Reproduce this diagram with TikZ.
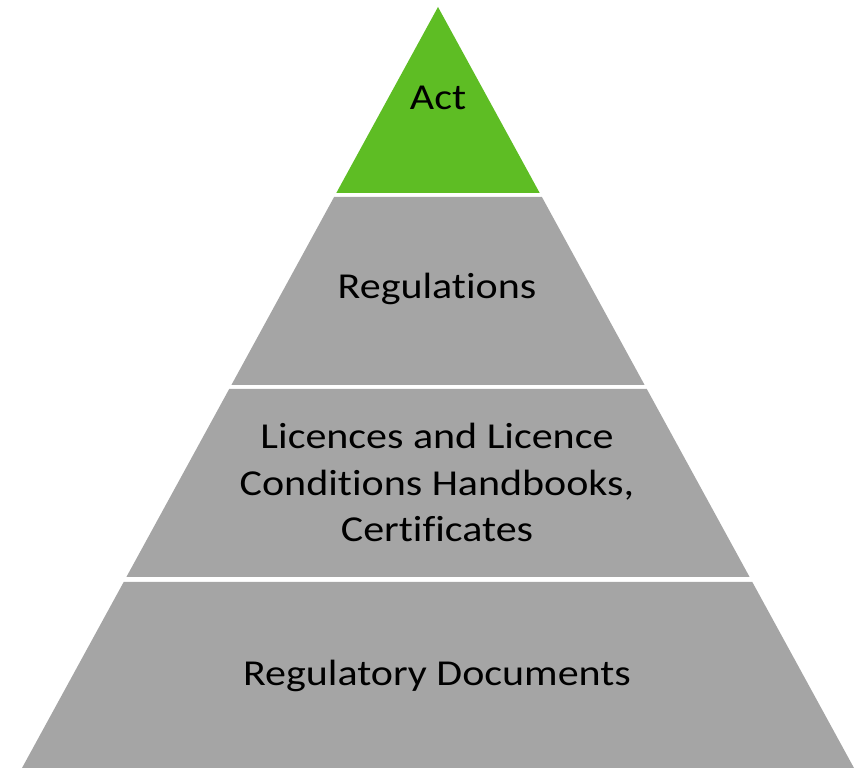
\documentclass[tikz,border=0pt]{standalone}
\usepackage{fontspec}
\usepackage{graphicx}
\setmainfont{Carlito}[Ligatures={NoCommon}]
\definecolor{actgreen}{RGB}{94,189,36}
\definecolor{layergray}{RGB}{165,165,165}
\tikzset{
  layer/.style={fill=layergray, draw=none},
  toplayer/.style={fill=actgreen, draw=none},
  label/.style={font=\fontsize{42}{54}\selectfont, text=black, inner sep=0pt, yscale=0.87, align=center}
}
\begin{document}
\begin{tikzpicture}[x=1pt,y=1pt]
\useasboundingbox (0,0) rectangle (860,768);
% layers (tikz y = 768 - image y)
\path[toplayer] (438,761) -- (539.7,575) -- (336.3,575) -- cycle;
\path[layer] (334.1,571) -- (541.9,571) -- (644.6,383) -- (231.4,383) -- cycle;
\path[layer] (229.2,379) -- (646.8,379) -- (749.6,191) -- (126.4,191) -- cycle;
\path[layer] (123.7,186) -- (752.3,186) -- (854,0) -- (22,0) -- cycle;
% labels
\path (438,658) node[label, anchor=base] (act) {Act};
\path (437,469) node[label, anchor=base] (reg) {Regulations};
\path (437,226) node[label, anchor=base] (lic) {Licences and Licence\\Conditions Handbooks,\\Certificates};
\path (437,82) node[label, anchor=base] (doc) {Regulatory Documents};
\end{tikzpicture}
\end{document}
